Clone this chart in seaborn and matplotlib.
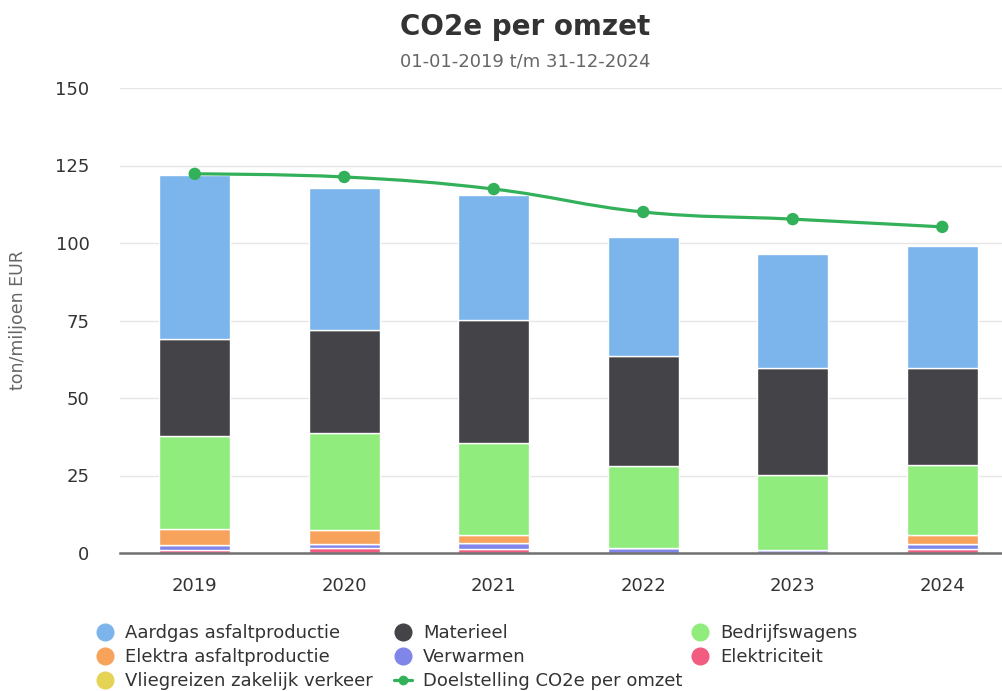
import numpy as np
import pandas as pd
import matplotlib
matplotlib.use("Agg")
import matplotlib.pyplot as plt
import seaborn as sns
from matplotlib.path import Path
from matplotlib.patches import PathPatch
from matplotlib.lines import Line2D

years = ["2019", "2020", "2021", "2022", "2023", "2024"]
elektriciteit = [1.1, 1.6, 1.3, 0.0, 0.0, 1.3]
verwarmen = [1.5, 1.3, 1.9, 1.7, 1.1, 1.5]
vliegreizen = [0.0, 0.0, 0.0, 0.0, 0.0, 0.0]
elektra = [5.2, 4.5, 2.6, 0.0, 0.0, 3.0]
bedrijfswagens = [29.9, 31.3, 29.6, 26.4, 24.1, 22.6]
materieel = [31.3, 33.2, 39.8, 35.4, 34.5, 31.3]
aardgas = [52.9, 45.8, 40.3, 38.4, 36.8, 39.3]
doelstelling = [122.3, 121.3, 117.4, 110.0, 107.7, 105.2]
yticks = [0, 25, 50, 75, 100, 125, 150]

series = [
    ("Elektriciteit", elektriciteit, "#f15c80"),
    ("Verwarmen", verwarmen, "#8085e9"),
    ("Vliegreizen zakelijk verkeer", vliegreizen, "#e4d354"),
    ("Elektra asfaltproductie", elektra, "#f7a35c"),
    ("Bedrijfswagens", bedrijfswagens, "#90ed7d"),
    ("Materieel", materieel, "#434348"),
    ("Aardgas asfaltproductie", aardgas, "#7cb5ec"),
]
line_color = "#33b15a"

sns.set_theme(style="white")
plt.rcParams["font.family"] = ["DejaVu Sans"]

fig = plt.figure(figsize=(10.02, 6.91), dpi=100)
ax = fig.add_axes([120 / 1002, (691 - 553) / 691, 897 / 1002, 465 / 691])

bottom = np.zeros(len(years))
for name, vals, col in series:
    df = pd.DataFrame({"jaar": years, "waarde": vals})
    sns.barplot(data=df, x="jaar", y="waarde", order=years, color=col,
                width=0.475, bottom=bottom.copy(), edgecolor="white",
                linewidth=1.0, saturation=1, ax=ax, errorbar=None)
    bottom = bottom + np.array(vals)

# spline line (Highcharts-style smoothing)
xs = np.arange(len(years), dtype=float)
ys = np.array(doelstelling, dtype=float)
sm = 1.5
den = sm + 1
rc = [None] * len(xs)
verts = [(xs[0], ys[0])]
codes = [Path.MOVETO]
for i in range(1, len(xs)):
    px, py = xs[i], ys[i]
    lx, ly = xs[i - 1], ys[i - 1]
    lcx, lcy = px, py
    if i < len(xs) - 1:
        nx, ny = xs[i + 1], ys[i + 1]
        lcx = (sm * px + lx) / den
        lcy = (sm * py + ly) / den
        rcx = (sm * px + nx) / den
        rcy = (sm * py + ny) / den
        corr = (rcy - lcy) * (rcx - px) / (rcx - lcx) + py - rcy
        lcy += corr
        rcy += corr
        if lcy > ly and lcy > py:
            lcy = max(ly, py); rcy = 2 * py - lcy
        elif lcy < ly and lcy < py:
            lcy = min(ly, py); rcy = 2 * py - lcy
        if rcy > ny and rcy > py:
            rcy = max(ny, py); lcy = 2 * py - rcy
        elif rcy < ny and rcy < py:
            rcy = min(ny, py); lcy = 2 * py - rcy
        rc[i] = (rcx, rcy)
    prev = rc[i - 1] if rc[i - 1] is not None else (lx, ly)
    verts += [prev, (lcx, lcy), (px, py)]
    codes += [Path.CURVE4, Path.CURVE4, Path.CURVE4]
ax.add_patch(PathPatch(Path(verts, codes), fill=False, edgecolor=line_color,
                       linewidth=2.3, zorder=5, capstyle="round"))
sns.scatterplot(x=xs, y=ys, color=line_color, s=80, edgecolor="none",
                zorder=6, ax=ax, legend=False)

ax.set_xlim(-0.5, 5.5)
ax.set_ylim(0, 150)
ax.set_yticks(yticks)
ax.set_yticklabels([str(t) for t in yticks])
ax.grid(axis="y", color="#e6e6e6", linewidth=1.0)
ax.set_axisbelow(True)
for s in ["top", "right", "left"]:
    ax.spines[s].set_visible(False)
ax.spines["bottom"].set_color("#707070")
ax.spines["bottom"].set_linewidth(1.8)
ax.spines["bottom"].set_zorder(7)
ax.tick_params(axis="both", length=0, labelsize=13, colors="#333333")
ax.tick_params(axis="y", pad=22)
ax.tick_params(axis="x", pad=17.5)
ax.set_xlabel("")
ax.set_ylabel("ton/miljoen EUR", fontsize=12.5, color="#666666", labelpad=22)
ax.yaxis.set_label_coords(-(120 - 27) / 897, 0.5)

fig.text(525 / 1002, 1 - 27 / 691, "CO2e per omzet", ha="center", va="center",
         fontsize=20, fontweight="bold", color="#333333")
fig.text(525 / 1002, 1 - 61 / 691, "01-01-2019 t/m 31-12-2024", ha="center",
         va="center", fontsize=13, color="#666666")

colors = {n: c for n, _, c in series}


def dot(c):
    return Line2D([], [], marker="o", linestyle="none", markersize=12,
                  markerfacecolor=c, markeredgecolor=c)


cols = [
    (96, [("Aardgas asfaltproductie", dot(colors["Aardgas asfaltproductie"])),
          ("Elektra asfaltproductie", dot(colors["Elektra asfaltproductie"])),
          ("Vliegreizen zakelijk verkeer", dot(colors["Vliegreizen zakelijk verkeer"]))]),
    (394, [("Materieel", dot(colors["Materieel"])),
           ("Verwarmen", dot(colors["Verwarmen"])),
           ("Doelstelling CO2e per omzet",
            Line2D([], [], color=line_color, linewidth=2.3, marker="o",
                   markersize=6))]),
    (691, [("Bedrijfswagens", dot(colors["Bedrijfswagens"])),
           ("Elektriciteit", dot(colors["Elektriciteit"]))]),
]
for xpx, items in cols:
    fig.legend([h for _, h in items], [l for l, _ in items], loc="upper left",
               bbox_to_anchor=(xpx / 1002, 1 - 624 / 691), frameon=False,
               fontsize=13, handlelength=1.0, handletextpad=0.6,
               labelspacing=0.34, borderpad=0, borderaxespad=0,
               labelcolor="#333333")

fig.savefig("out.png", dpi=100)
